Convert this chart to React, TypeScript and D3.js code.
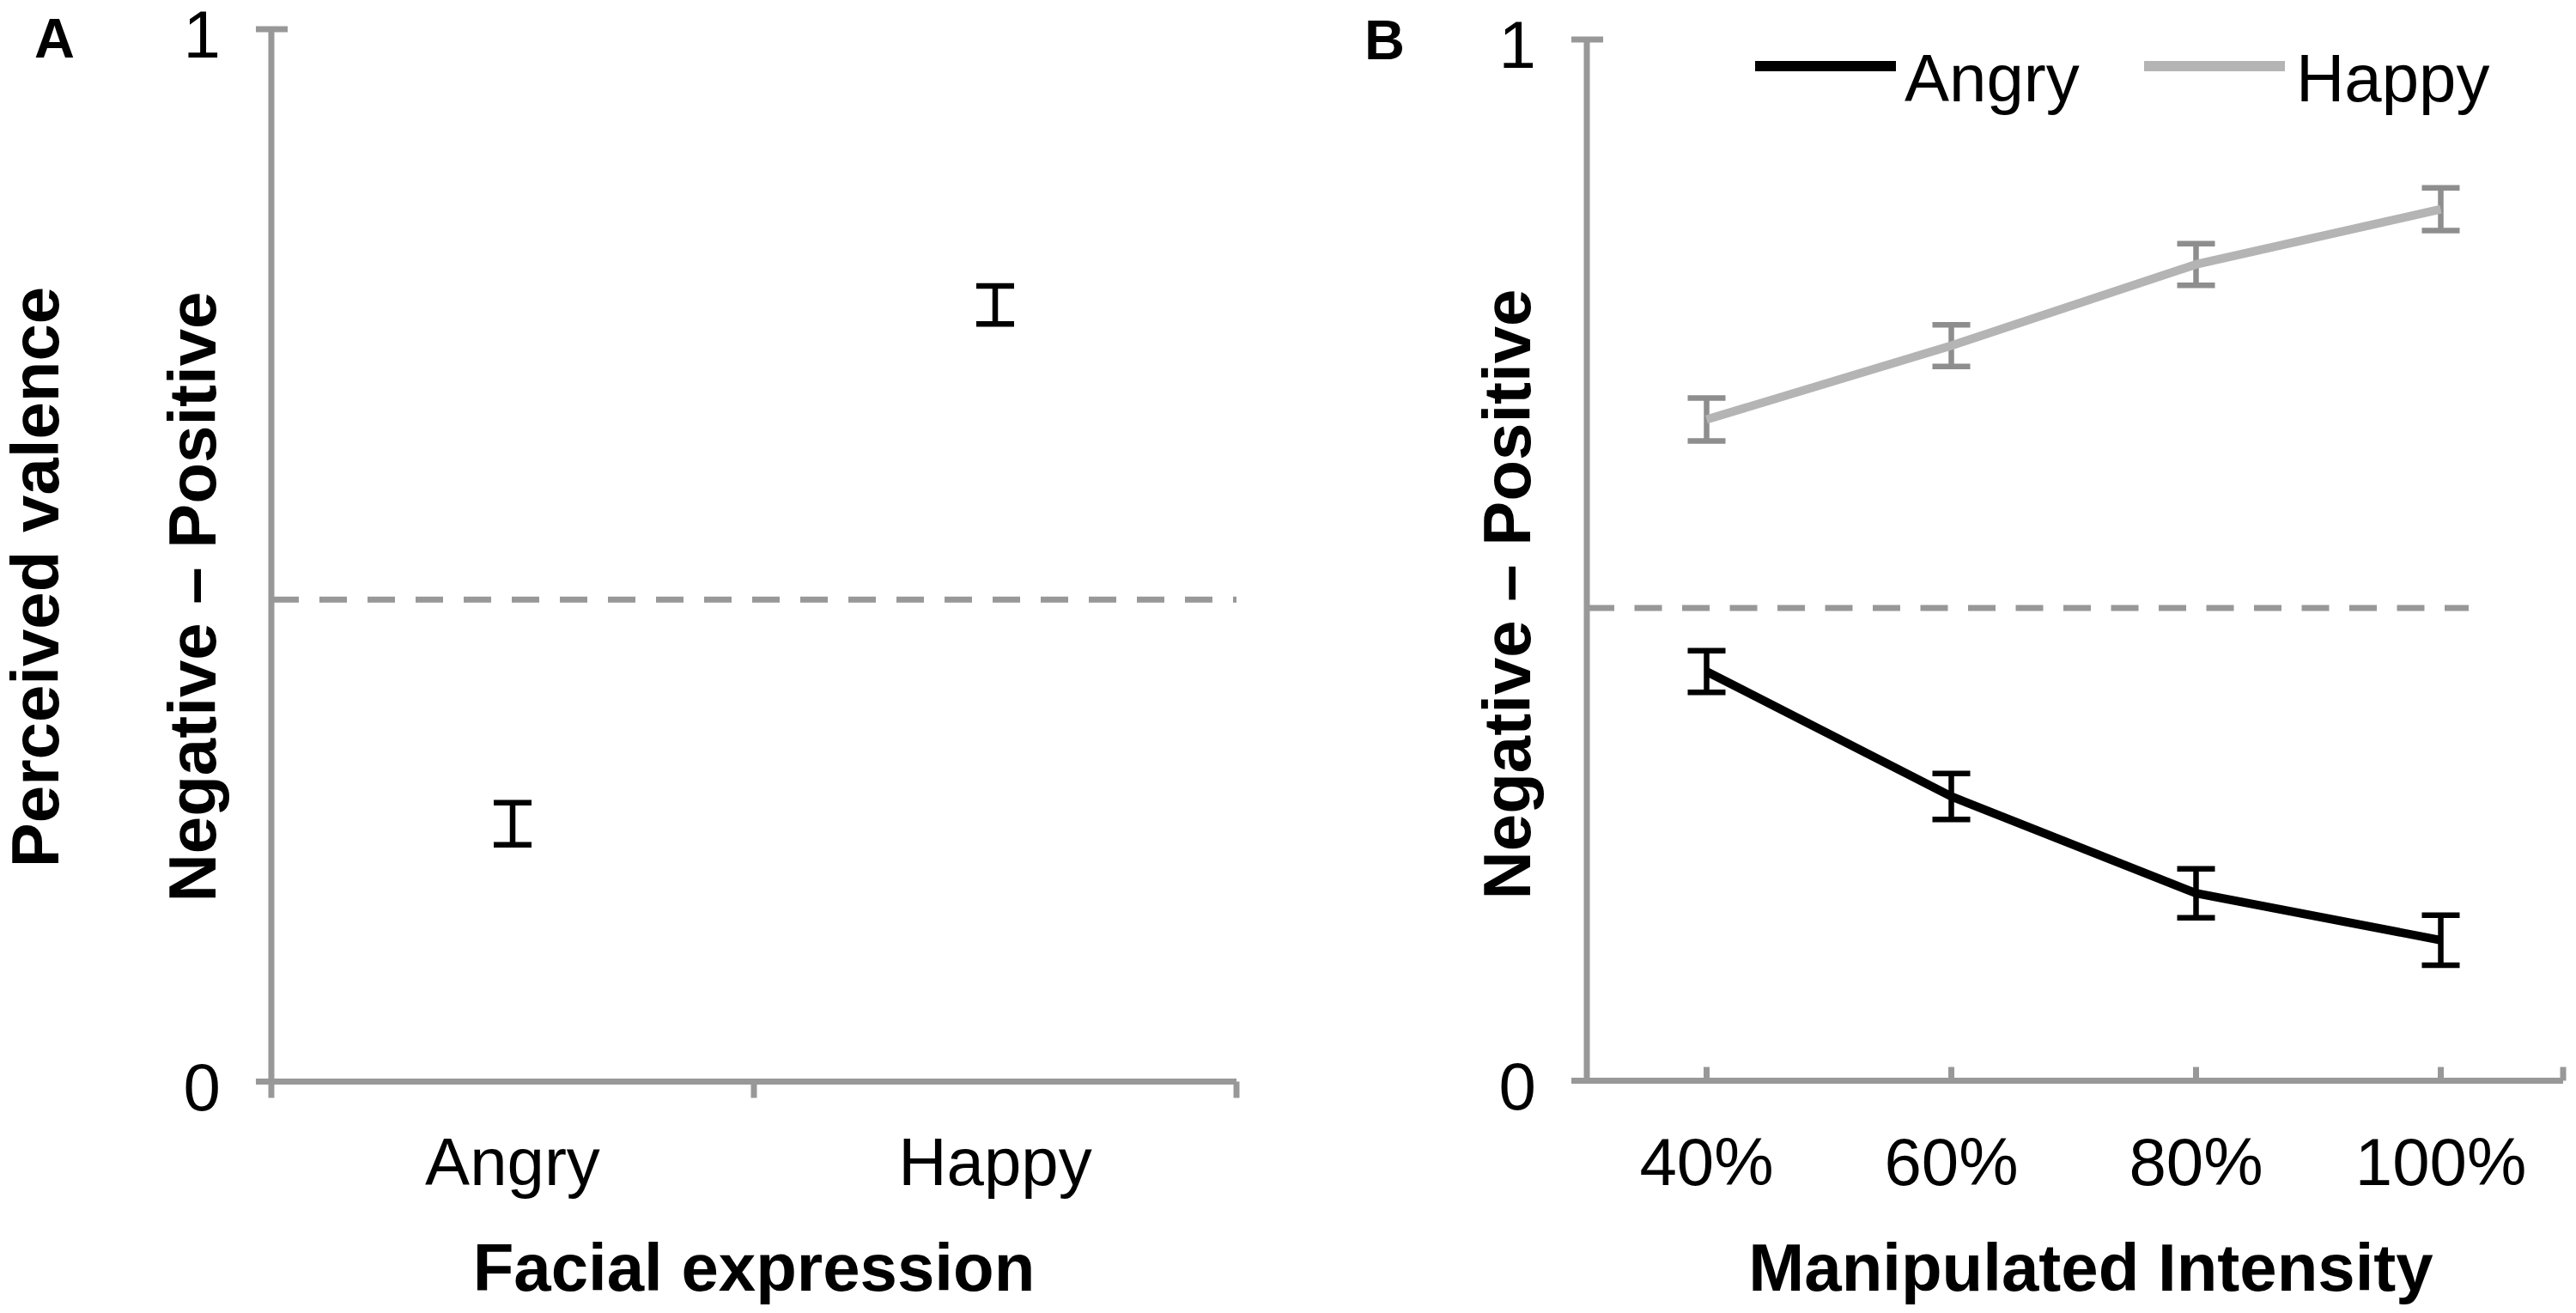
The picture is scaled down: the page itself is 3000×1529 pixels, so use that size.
import React from "react";
import * as d3 from "d3";

// panel A: mean valence per facial expression
const expressions = ["Angry", "Happy"];
const expressionMeans = [0.245, 0.738];
const expressionErrors = [0.02, 0.018];

// panel B: valence by manipulated intensity
const intensities = ["40%", "60%", "80%", "100%"];
const angryMeans = [0.393, 0.273, 0.18, 0.135];
const angryErrors = [0.02, 0.022, 0.0235, 0.024];
const happyMeans = [0.635, 0.706, 0.784, 0.837];
const happyErrors = [0.0206, 0.02, 0.02, 0.0206];

const yTicks = [0, 1];
const neutralA = 0.458;
const neutralB = 0.454;

const width = 3000;
const height = 1529;
const font = "'Liberation Sans', Arial, Helvetica, sans-serif";
const axisColor = "#989898";
const fs = 78;

const tickLabelY = 1380;
const titleY = 1503;

// panel A geometry
const axA = 316;
const xA = d3.scaleBand().domain(expressions).range([316, 1440]).padding(0);
const yA = d3.scaleLinear().domain([0, 1]).range([1259.5, 34]);

// panel B geometry
const axB = 1848;
const xB = d3.scaleBand().domain(intensities).range([1845, 2985]).padding(0);
const yB = d3.scaleLinear().domain([0, 1]).range([1258.5, 46]);

const line = (x: d3.ScaleBand<string>, y: d3.ScaleLinear<number, number>) =>
  d3
    .line<number>()
    .x((_, i) => Number(x(intensities[i])) + x.bandwidth() / 2)
    .y((d) => y(d));

const ErrorBar = ({ cx, y0, y1, color }: { cx: number; y0: number; y1: number; color: string }) => (
  <g stroke={color} strokeWidth={6.5}>
    <line x1={cx} x2={cx} y1={y0} y2={y1} />
    <line x1={cx - 22} x2={cx + 22} y1={y0} y2={y0} />
    <line x1={cx - 22} x2={cx + 22} y1={y1} y2={y1} />
  </g>
);

const YAxis = ({ ax, y }: { ax: number; y: d3.ScaleLinear<number, number> }) => (
  <g>
    <line x1={ax} x2={ax} y1={y(1)} y2={y(0)} stroke={axisColor} strokeWidth={7} />
    {yTicks.map((t) => (
      <g key={t}>
        <line x1={ax - 18} x2={ax + 19} y1={y(t)} y2={y(t)} stroke={axisColor} strokeWidth={7} />
        <text x={ax - 59} y={y(t) + 33} textAnchor="end" fontSize={fs}>
          {t}
        </text>
      </g>
    ))}
  </g>
);

export default function App() {
  const bwB = xB.bandwidth();
  const cB = (d: string) => Number(xB(d)) + bwB / 2;
  const cA = (d: string) => Number(xA(d)) + xA.bandwidth() / 2;

  return (
    <svg
      width={width}
      height={height}
      style={{ position: "absolute", left: 0, top: 0, background: "#fff" }}
      fontFamily={font}
    >
      <rect width={width} height={height} fill="#fff" />

      {/* ---------- Panel A ---------- */}
      <text x={40} y={67} fontSize={65} fontWeight="bold">A</text>
      <line
        x1={axA}
        x2={1440}
        y1={yA(neutralA)}
        y2={yA(neutralA)}
        stroke={axisColor}
        strokeWidth={7}
        strokeDasharray="32 24"
      />
      <YAxis ax={axA} y={yA} />
      <line x1={axA} x2={1440} y1={yA(0)} y2={yA(0)} stroke={axisColor} strokeWidth={7} />
      {[...expressions.map((d) => Number(xA(d))), 1440].map((tx, i) => (
        <line key={i} x1={tx} x2={tx} y1={yA(0)} y2={yA(0) + 19} stroke={axisColor} strokeWidth={7} />
      ))}
      {expressions.map((d) => (
        <text key={d} x={cA(d)} y={tickLabelY} textAnchor="middle" fontSize={fs}>
          {d}
        </text>
      ))}
      {expressions.map((d, i) => (
        <ErrorBar
          key={d}
          cx={cA(d)}
          y0={yA(expressionMeans[i] + expressionErrors[i])}
          y1={yA(expressionMeans[i] - expressionErrors[i])}
          color="#000"
        />
      ))}
      <text x={878} y={titleY} textAnchor="middle" fontSize={fs} fontWeight="bold">
        Facial expression
      </text>
      <text transform="translate(68,672) rotate(-90)" textAnchor="middle" fontSize={fs} fontWeight="bold">
        Perceived valence
      </text>
      <text transform="translate(251,695) rotate(-90)" textAnchor="middle" fontSize={fs} fontWeight="bold">
        Negative – Positive
      </text>

      {/* ---------- Panel B ---------- */}
      <text x={1589} y={69} fontSize={65} fontWeight="bold">B</text>
      <line
        x1={axB}
        x2={2875}
        y1={yB(neutralB)}
        y2={yB(neutralB)}
        stroke={axisColor}
        strokeWidth={7}
        strokeDasharray="32 23.5"
      />
      <YAxis ax={axB} y={yB} />
      <line x1={axB - 18} x2={2985} y1={yB(0)} y2={yB(0)} stroke={axisColor} strokeWidth={7} />
      {[...intensities.map(cB), 2985].map((tx, i) => (
        <line key={i} x1={tx} x2={tx} y1={yB(0)} y2={yB(0) - 16} stroke={axisColor} strokeWidth={7} />
      ))}
      {intensities.map((d) => (
        <text key={d} x={cB(d)} y={tickLabelY} textAnchor="middle" fontSize={fs}>
          {d}
        </text>
      ))}
      <text x={2435} y={titleY} textAnchor="middle" fontSize={fs} fontWeight="bold">
        Manipulated Intensity
      </text>
      <text transform="translate(1782,692) rotate(-90)" textAnchor="middle" fontSize={fs} fontWeight="bold">
        Negative – Positive
      </text>

      {intensities.map((d, i) => (
        <ErrorBar
          key={"h" + d}
          cx={cB(d)}
          y0={yB(happyMeans[i] + happyErrors[i])}
          y1={yB(happyMeans[i] - happyErrors[i])}
          color="#8e8e8e"
        />
      ))}
      <path d={line(xB, yB)(happyMeans) as string} fill="none" stroke="#b4b4b4" strokeWidth={10} />

      {intensities.map((d, i) => (
        <ErrorBar
          key={"a" + d}
          cx={cB(d)}
          y0={yB(angryMeans[i] + angryErrors[i])}
          y1={yB(angryMeans[i] - angryErrors[i])}
          color="#000"
        />
      ))}
      <path d={line(xB, yB)(angryMeans) as string} fill="none" stroke="#000" strokeWidth={10} />

      {/* legend */}
      <line x1={2044} x2={2208} y1={77} y2={77} stroke="#000" strokeWidth={12} />
      <text x={2218} y={118} fontSize={fs}>Angry</text>
      <line x1={2497} x2={2661} y1={77} y2={77} stroke="#b4b4b4" strokeWidth={12} />
      <text x={2674} y={118} fontSize={fs}>Happy</text>
    </svg>
  );
}
